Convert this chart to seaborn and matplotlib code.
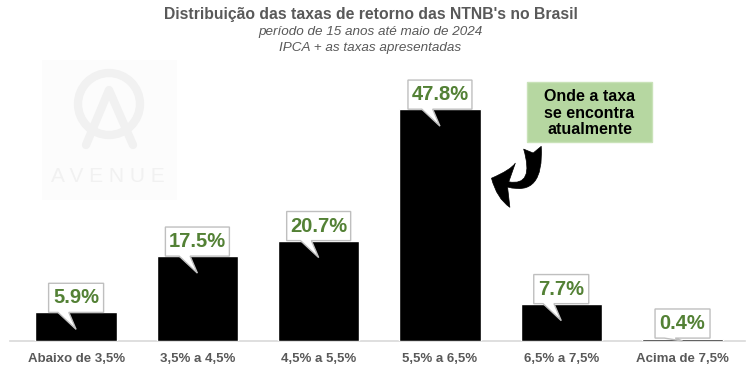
import numpy as np
import pandas as pd
import matplotlib
matplotlib.use("Agg")
import matplotlib.pyplot as plt
import seaborn as sns
from matplotlib.patches import Polygon, Rectangle, Circle, FancyArrowPatch
from matplotlib.lines import Line2D
from matplotlib.transforms import Affine2D

# data
categories = ["Abaixo de 3,5%", "3,5% a 4,5%", "4,5% a 5,5%",
              "5,5% a 6,5%", "6,5% a 7,5%", "Acima de 7,5%"]
shares = [5.9, 17.5, 20.7, 47.8, 7.7, 0.4]
value_labels = ["5.9%", "17.5%", "20.7%", "47.8%", "7.7%", "0.4%"]

title = "Distribuição das taxas de retorno das NTNB's no Brasil"
subtitle1 = "período de 15 anos até maio de 2024"
subtitle2 = "IPCA + as taxas apresentadas"
note = "Onde a taxa\nse encontra\natualmente"

GRAY = "#595959"
GREEN = "#538135"

sns.set_theme(style="white")
plt.rcParams["font.family"] = ["Liberation Sans", "DejaVu Sans"]

W, H = 749, 383
fig = plt.figure(figsize=(W / 100, H / 100), dpi=100, facecolor="white")
px = Affine2D().scale(1, -1).translate(0, H)  # pixel coords, origin top-left

# faint watermark (behind everything)
wm = "#f1f1f1"
fig.add_artist(Rectangle((42, 60), 135, 140, transform=px, facecolor="#fcfcfc",
                         edgecolor="none", zorder=0))
fig.add_artist(Circle((109, 104), 31, transform=px, facecolor="none",
                      edgecolor=wm, lw=6, zorder=0))
fig.add_artist(Line2D([86, 109, 133], [145, 90, 145], transform=px,
                      color=wm, lw=6, zorder=0))
fig.text(108 / W, 1 - 177 / H, "A V E N U E", ha="center", va="center",
         fontsize=15, color=wm, zorder=0)

ax = fig.add_axes([10 / W, (H - 341) / H, 735 / W, 242.5 / H])
ax.patch.set_alpha(0)
df = pd.DataFrame({"faixa": categories, "pct": shares})
sns.barplot(data=df, x="faixa", y="pct", color="black", saturation=1,
            width=0.67, ax=ax, zorder=2)

ax.set_xlim(-0.545, 5.515)
ax.set_ylim(0, 50)
ax.set_xlabel("")
ax.set_ylabel("")
ax.set_yticks([])
for s in ["top", "left", "right"]:
    ax.spines[s].set_visible(False)
ax.spines["bottom"].set_color("#d9d9d9")
ax.spines["bottom"].set_linewidth(1.2)
ax.spines["bottom"].set_zorder(1)
ax.tick_params(axis="x", length=0, pad=9)
for t in ax.get_xticklabels():
    t.set_fontsize(9.5)
    t.set_fontweight("bold")
    t.set_color(GRAY)

# callout labels (box width follows the label length, ~121.3 px per category)
bh = 6.0
for i, (v, lab) in enumerate(zip(shares, value_labels)):
    bw = (9 * len(lab) + 19) / 121.3
    yb = max(v, 0.6)
    tip = max(v - 3.5, 0)
    pts = [(i - bw / 2, yb), (i - 0.15, yb), (i, tip), (i - 0.06, yb),
           (i + bw / 2, yb), (i + bw / 2, yb + bh), (i - bw / 2, yb + bh)]
    ax.add_patch(Polygon(pts, closed=True, facecolor="white", edgecolor="#bfbfbf",
                         lw=1, zorder=3, clip_on=False))
    ax.text(i, yb + bh / 2, lab, ha="center", va="center", fontsize=14.5,
            fontweight="bold", color=GREEN, zorder=4)

# green note box
fig.add_artist(Rectangle((527, 82), 125, 60, transform=px, facecolor="#b6d7a1",
                         edgecolor="#c9e2b8", lw=1, zorder=5))
fig.text(589.5 / W, 1 - 113 / H, note, ha="center", va="center", fontsize=11.5,
         fontweight="bold", color="black", linespacing=1.12, zorder=6)

# curved arrow pointing to the 5.5%-6.5% bar
arrow = FancyArrowPatch((532, 145), (489, 177), transform=px,
                        connectionstyle="arc3,rad=-1.0",
                        arrowstyle="fancy,head_length=1.0,head_width=2.0,tail_width=0.8",
                        mutation_scale=16, facecolor="black", edgecolor="black",
                        lw=0.5, zorder=6)
fig.add_artist(arrow)

fig.text(370.5 / W, 1 - 15 / H, title, ha="center", va="center", fontsize=11.3,
         fontweight="bold", color=GRAY)
fig.text(370.5 / W, 1 - 32 / H, subtitle1, ha="center", va="center", fontsize=9.7,
         style="italic", color=GRAY)
fig.text(370.5 / W, 1 - 48.5 / H, subtitle2, ha="center", va="center", fontsize=9.7,
         style="italic", color=GRAY)

fig.savefig("out.png", dpi=100, facecolor="white")
